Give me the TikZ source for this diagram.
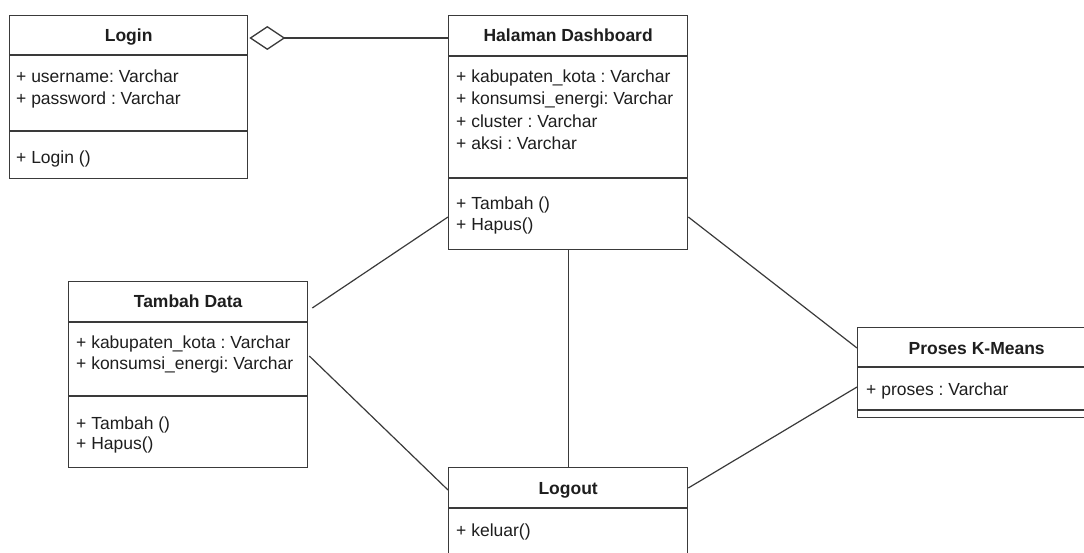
\documentclass[tikz,border=0pt]{standalone}
\usepackage{fontspec}
\setmainfont{Liberation Sans}
\usetikzlibrary{calc,arrows.meta}
\definecolor{edge}{HTML}{3A3A3A}
\definecolor{ink}{HTML}{1E1E1E}
\frenchspacing
\begin{document}
\begin{tikzpicture}[x=1pt,y=-1pt,
  classbox/.style={draw=edge,line width=1.3pt,fill=white,rectangle,inner sep=0pt,anchor=north west},
  sepline/.style={draw=edge,line width=1.3pt},
  assoc/.style={draw=edge,line width=1.2pt},
  title/.style={anchor=base,inner sep=0pt,text=ink,font=\fontsize{17.5}{22}\selectfont\bfseries},
  member/.style={anchor=base west,inner sep=0pt,text=ink,font=\fontsize{17.5}{22}\selectfont}]
\useasboundingbox (0,0) rectangle (1084,553);
\clip (0,0) rectangle (1084,553);

% class boxes
\node[classbox,minimum width=238,minimum height=163] (login) at (9,15) {};
\node[classbox,minimum width=239,minimum height=234] (dash) at (448,15) {};
\node[classbox,minimum width=239,minimum height=186] (tambah) at (68,281) {};
\node[classbox,minimum width=238,minimum height=90] (proses) at (857,327) {};
\node[classbox,minimum width=239,minimum height=110] (logout) at (448,467) {};

% compartment lines
\draw[sepline] ($(login.north west)+(0,40)$) -- ($(login.north east)+(0,40)$);
\draw[sepline] ($(login.north west)+(0,116)$) -- ($(login.north east)+(0,116)$);
\draw[sepline] ($(dash.north west)+(0,41)$) -- ($(dash.north east)+(0,41)$);
\draw[sepline] ($(dash.north west)+(0,163)$) -- ($(dash.north east)+(0,163)$);
\draw[sepline] ($(tambah.north west)+(0,41)$) -- ($(tambah.north east)+(0,41)$);
\draw[sepline] ($(tambah.north west)+(0,115)$) -- ($(tambah.north east)+(0,115)$);
\draw[sepline] ($(proses.north west)+(0,40)$) -- ($(proses.north east)+(0,40)$);
\draw[sepline] ($(proses.north west)+(0,83)$) -- ($(proses.north east)+(0,83)$);
\draw[sepline] ($(logout.north west)+(0,41)$) -- ($(logout.north east)+(0,41)$);

% Login
\node[title] (login-t) at ($(login.north)+(0,27)$) {Login};
\node[member] (login-a1) at ($(login.north west)+(7,68)$) {+ username: Varchar};
\node[member] (login-a2) at ($(login.north west)+(7,89.5)$) {+ password : Varchar};
\node[member] (login-m1) at ($(login.north west)+(7,149)$) {+ Login ()};

% Halaman Dashboard
\node[title] (dash-t) at ($(dash.north)+(0,27)$) {Halaman Dashboard};
\node[member] (dash-a1) at ($(dash.north west)+(8,68)$) {+ kabupaten\_kota : Varchar};
\node[member] (dash-a2) at ($(dash.north west)+(8,90)$) {+ konsumsi\_energi: Varchar};
\node[member] (dash-a3) at ($(dash.north west)+(8,112.5)$) {+ cluster : Varchar};
\node[member] (dash-a4) at ($(dash.north west)+(8,135)$) {+ aksi : Varchar};
\node[member] (dash-m1) at ($(dash.north west)+(8,194.5)$) {+ Tambah ()};
\node[member] (dash-m2) at ($(dash.north west)+(8,216)$) {+ Hapus()};

% Tambah Data
\node[title] (tambah-t) at ($(tambah.north)+(0,26.5)$) {Tambah Data};
\node[member] (tambah-a1) at ($(tambah.north west)+(8,67.5)$) {+ kabupaten\_kota : Varchar};
\node[member] (tambah-a2) at ($(tambah.north west)+(8,88)$) {+ konsumsi\_energi: Varchar};
\node[member] (tambah-m1) at ($(tambah.north west)+(8,148)$) {+ Tambah ()};
\node[member] (tambah-m2) at ($(tambah.north west)+(8,168.5)$) {+ Hapus()};

% Proses K-Means
\node[title] (proses-t) at ($(proses.north)+(0,27)$) {Proses K-Means};
\node[member] (proses-a1) at ($(proses.north west)+(9,68)$) {+ proses : Varchar};

% Logout
\node[title] (logout-t) at ($(logout.north)+(0,27)$) {Logout};
\node[member] (logout-m1) at ($(logout.north west)+(8,69)$) {+ keluar()};

% aggregation: Login <>--- Halaman Dashboard
\draw[assoc,-{Diamond[open,length=36pt,width=24pt,line width=1.3pt]}]
  ($(dash.north west)+(0,23)$) -- ($(login.north east)+(1,23)$);

% associations
\draw[assoc] ($(tambah.north east)+(4,27)$) -- ($(dash.north west)+(0,202)$);
\draw[assoc] ($(tambah.north east)+(1,75)$) -- ($(logout.north west)+(0,23)$);
\draw[assoc] (dash.south) -- (logout.north);
\draw[assoc] ($(dash.north east)+(0,202)$) -- ($(proses.north west)+(0,21)$);
\draw[assoc] ($(logout.north east)+(0,21)$) -- ($(proses.north west)+(0,60)$);
\end{tikzpicture}
\end{document}
